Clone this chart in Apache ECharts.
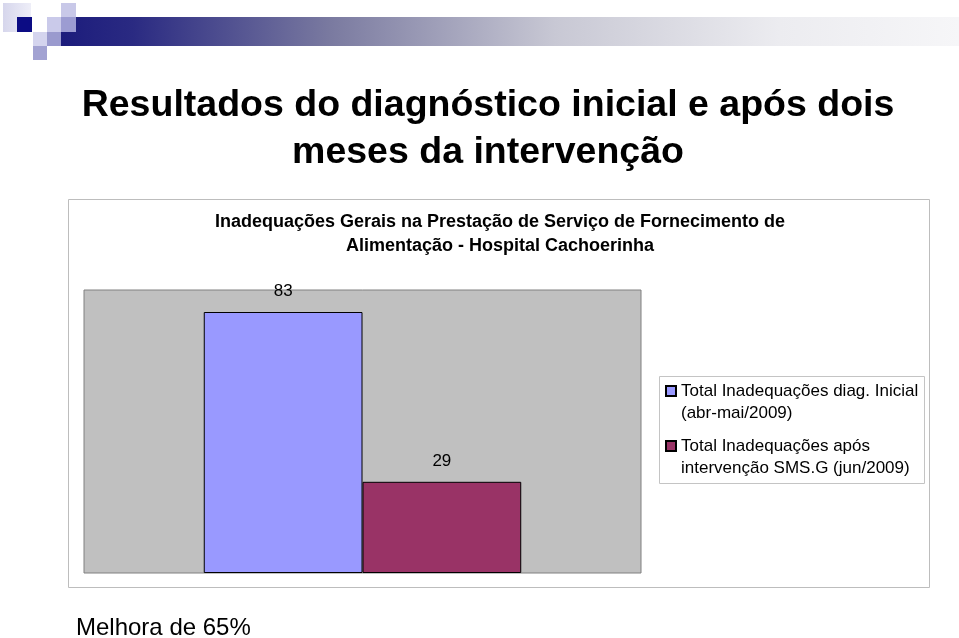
<!DOCTYPE html>
<html>
<head>
<meta charset="utf-8">
<script src="https://cdn.jsdelivr.net/npm/echarts@6/dist/echarts.min.js"></script>
<style>
html,body{margin:0;padding:0;background:#fff;}
#c{width:959px;height:638px;}
</style>
</head>
<body>
<div id="c"></div>
<script>
var categories = ['Hospital Cachoerinha'];
var seriesNames = [
  'Total Inadequações diag. Inicial\n(abr-mai/2009)',
  'Total Inadequações após\nintervenção SMS.G (jun/2009)'
];
var initialValues = [83];
var afterValues = [29];
var slideTitle = 'Resultados do diagnóstico inicial e após dois\nmeses da intervenção';
var chartTitle = 'Inadequações Gerais na Prestação de Serviço de Fornecimento de\nAlimentação - Hospital Cachoerinha';
var footNote = 'Melhora de 65%';

var FONT = '"Liberation Sans", Arial, sans-serif';
var chart = echarts.init(document.getElementById('c'), null, {renderer: 'canvas'});

var labelCfg = {show: true, position: 'top', distance: 12, color: '#000', fontSize: 17, fontFamily: FONT};

chart.setOption({
  animation: false,
  backgroundColor: '#fff',
  graphic: [
    {type: 'rect', z: -10, shape: {x: 61, y: 17, width: 898, height: 29},
      style: {fill: new echarts.graphic.LinearGradient(0, 0, 1, 0, [
        {offset: 0, color: '#1c1c7c'},
        {offset: 0.08, color: '#2a2a82'},
        {offset: 0.3, color: '#7a7aa0'},
        {offset: 0.55, color: '#c8c8d4'},
        {offset: 0.8, color: '#ececf0'},
        {offset: 1, color: '#f6f6f8'}
      ])}},
    {type: 'rect', z: -9, shape: {x: 3, y: 3, width: 28, height: 29}, style: {fill: new echarts.graphic.LinearGradient(0,0,1,0,[{offset:0,color:'#d6d6ec'},{offset:1,color:'#eeeef8'}])}},
    {type: 'rect', z: -8, shape: {x: 17, y: 17, width: 15, height: 15}, style: {fill: '#0c0c84'}},
    {type: 'rect', z: -8, shape: {x: 47, y: 17, width: 14, height: 15}, style: {fill: '#cacaea'}},
    {type: 'rect', z: -8, shape: {x: 61, y: 3, width: 15, height: 14}, style: {fill: '#c8c8e8'}},
    {type: 'rect', z: -8, shape: {x: 61, y: 17, width: 15, height: 15}, style: {fill: '#9c9cd2'}},
    {type: 'rect', z: -8, shape: {x: 33, y: 32, width: 14, height: 14}, style: {fill: '#d4d4ee'}},
    {type: 'rect', z: -8, shape: {x: 47, y: 32, width: 14, height: 14}, style: {fill: '#9a9ace'}},
    {type: 'rect', z: -8, shape: {x: 33, y: 46, width: 14, height: 14}, style: {fill: '#a2a2d2'}},
    {type: 'rect', z: -5, shape: {x: 68.5, y: 199.5, width: 861, height: 388}, style: {fill: '#fff', stroke: '#bdbdbd', lineWidth: 1}},
    {type: 'rect', z: -4, shape: {x: 659.5, y: 376.5, width: 265, height: 107}, style: {fill: '#fff', stroke: '#c4c4c4', lineWidth: 1}}
  ],
  title: [
    {text: slideTitle, left: 488, top: 82, padding: 0, textAlign: 'center',
      textStyle: {fontFamily: FONT, fontSize: 37.5, fontWeight: 'bold', color: '#000', lineHeight: 47}},
    {text: chartTitle, left: 500, top: 210, padding: 0, textAlign: 'center',
      textStyle: {fontFamily: FONT, fontSize: 18, fontWeight: 'bold', color: '#000', lineHeight: 24}},
    {text: footNote, left: 76, top: 614, padding: 0,
      textStyle: {fontFamily: FONT, fontSize: 24, fontWeight: 'normal', color: '#000', lineHeight: 28}}
  ],
  legend: {
    orient: 'vertical',
    left: 665, top: 358, padding: 0, itemGap: -11,
    icon: 'rect', itemWidth: 10, itemHeight: 10,
    formatter: function (name) { return '\n' + name; },
    textStyle: {fontFamily: FONT, fontSize: 17, color: '#000', lineHeight: 22},
    data: seriesNames
  },
  grid: {left: 84, top: 290, width: 557, height: 283, show: true,
    backgroundColor: '#c0c0c0', borderColor: '#808080', borderWidth: 1},
  xAxis: {type: 'category', data: categories, show: false},
  yAxis: {type: 'value', min: 0, max: 90, show: false, splitLine: {show: false}},
  series: [
    {name: seriesNames[0], type: 'bar', data: initialValues, barGap: '0%', barCategoryGap: '43%',
      itemStyle: {color: '#9999ff', borderColor: '#000', borderWidth: 1}, label: labelCfg},
    {name: seriesNames[1], type: 'bar', data: afterValues, barGap: '0%', barCategoryGap: '43%',
      itemStyle: {color: '#993366', borderColor: '#000', borderWidth: 1}, label: labelCfg}
  ]
});
</script>
</body>
</html>
